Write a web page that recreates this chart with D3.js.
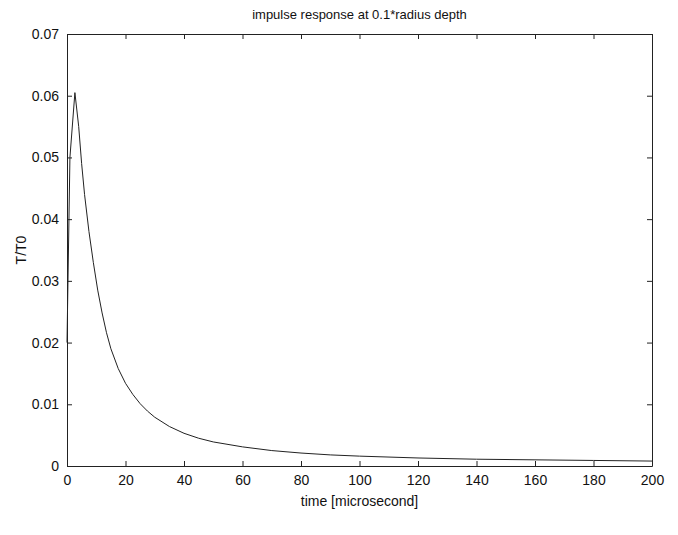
<!DOCTYPE html>
<html>
<head>
<meta charset="utf-8">
<script src="https://cdn.jsdelivr.net/npm/d3@7"></script>
<style>
  body { margin: 0; background: #fff; }
  svg text { font-family: "Liberation Sans", Arial, sans-serif; fill: #111; }
</style>
</head>
<body>
<div id="chart"></div>
<script>
// time in microseconds and the normalised temperature T/T0
const times = [0, 1, 2.7, 4, 5, 6, 7.5, 9, 10.5, 12, 13.5, 15, 17.5, 20, 22.5, 25, 27.5, 30,
  35, 40, 45, 50, 60, 70, 80, 90, 100, 120, 140, 160, 180, 200];
const values = [0.02, 0.05, 0.0605, 0.055, 0.049, 0.044, 0.038, 0.033, 0.0285, 0.0248,
  0.0216, 0.019, 0.0158, 0.0134, 0.0116, 0.0101, 0.0089, 0.0079, 0.0064, 0.0053,
  0.0045, 0.0039, 0.0031, 0.0025, 0.0021, 0.0018, 0.0016, 0.0013, 0.0011, 0.001,
  0.0009, 0.0008];
const xTicks = [0, 20, 40, 60, 80, 100, 120, 140, 160, 180, 200];
const yTicks = [0, 0.01, 0.02, 0.03, 0.04, 0.05, 0.06, 0.07];

const data = times.map((t, i) => ({t: t, v: values[i]}));

/* Set the dimensions and margins */
const width = 678, height = 535;
const margins = {top: 34, right: 26, bottom: 69, left: 67};

const svg = d3.select("#chart")
  .append("svg")
  .attr("width", width)
  .attr("height", height);

/* Scales */
const xScale = d3.scaleLinear()
  .domain([0, 200])
  .range([margins.left, width - margins.right]);

const yScale = d3.scaleLinear()
  .domain([0, 0.07])
  .range([height - margins.bottom, margins.top]);

/* Axes: MATLAB style box with inward ticks on all sides */
const fmt = d => d === 0 ? "0" : d3.format(".2f")(d);

svg.append("g")
  .attr("transform", `translate(0, ${height - margins.bottom})`)
  .call(d3.axisBottom(xScale).tickValues(xTicks).tickSizeInner(-5).tickSizeOuter(0).tickPadding(9))
  .call(g => g.selectAll("text").style("font-size", "14px"));

svg.append("g")
  .attr("transform", `translate(0, ${margins.top})`)
  .call(d3.axisTop(xScale).tickValues(xTicks).tickSizeInner(-5).tickSizeOuter(0).tickFormat(""));

svg.append("g")
  .attr("transform", `translate(${margins.left}, 0)`)
  .call(d3.axisLeft(yScale).tickValues(yTicks).tickFormat(fmt).tickSizeInner(-5).tickSizeOuter(0).tickPadding(8))
  .call(g => g.selectAll("text").style("font-size", "14px"));

svg.append("g")
  .attr("transform", `translate(${width - margins.right}, 0)`)
  .call(d3.axisRight(yScale).tickValues(yTicks).tickSizeInner(-5).tickSizeOuter(0).tickFormat(""));

svg.selectAll(".domain").attr("stroke", "#222");
svg.selectAll(".tick line").attr("stroke", "#222");

/* The response curve */
const line = d3.line()
  .curve(d3.curveLinear)
  .x(d => xScale(d.t))
  .y(d => yScale(d.v));

svg.append("path")
  .datum(data)
  .attr("d", line)
  .attr("fill", "none")
  .attr("stroke", "#222")
  .attr("stroke-width", 1);

/* Titles */
svg.append("text")
  .attr("x", (margins.left + width - margins.right) / 2)
  .attr("y", 19)
  .attr("text-anchor", "middle")
  .style("font-size", "13px")
  .text("impulse response at 0.1*radius depth");

svg.append("text")
  .attr("x", (margins.left + width - margins.right) / 2)
  .attr("y", 506)
  .attr("text-anchor", "middle")
  .style("font-size", "14px")
  .text("time [microsecond]");

svg.append("text")
  .attr("transform", `translate(26, ${(margins.top + height - margins.bottom) / 2}) rotate(-90)`)
  .attr("text-anchor", "middle")
  .style("font-size", "14px")
  .text("T/T0");
</script>
</body>
</html>
